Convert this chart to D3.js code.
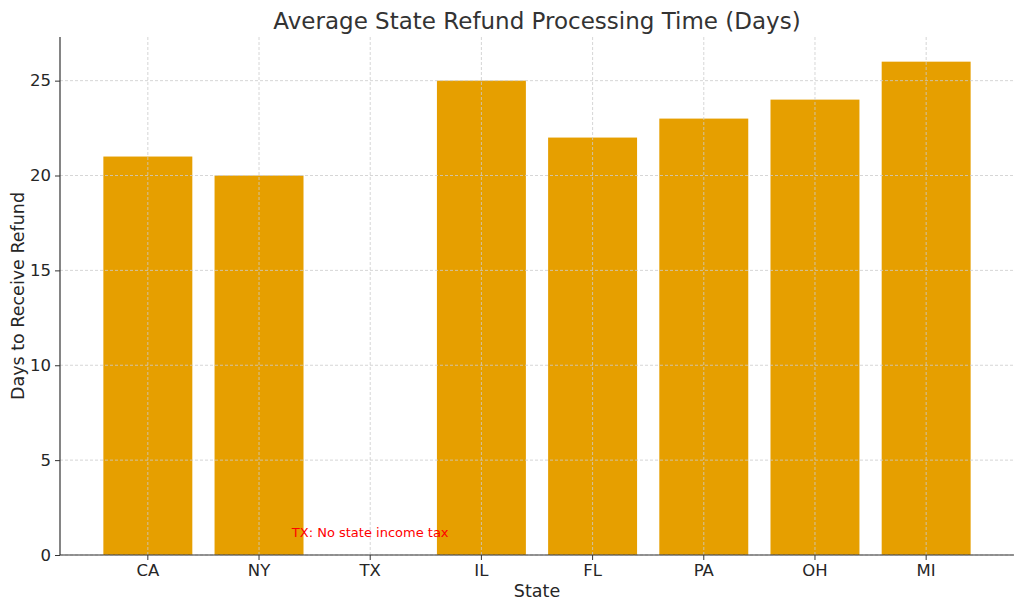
<!DOCTYPE html>
<html><head><meta charset="utf-8">
<script src="https://cdn.jsdelivr.net/npm/d3@7"></script>
<style>body{margin:0;background:#fff}svg{display:block}text{font-family:"DejaVu Sans",sans-serif}</style>
</head><body><svg id="c" width="1024" height="611"></svg>
<script>
const states = ["CA","NY","TX","IL","FL","PA","OH","MI"];
const days = [21,20,0,25,22,23,24,26];
const yTicks = [0,5,10,15,20,25];
const titleText = "Average State Refund Processing Time (Days)";
const xLabel = "State";
const yLabel = "Days to Receive Refund";
const note = "TX: No state income tax";
const noteState = "TX";
const noteValue = 1;

const svg = d3.select("#c");
const L = 60, R = 1014, T = 37, B = 555;
const n = states.length;
const lo = -0.4, hi = n - 1 + 0.4, pad = (hi - lo) * 0.05;
const xl = d3.scaleLinear().domain([lo - pad, hi + pad]).range([L, R]);
const x = d3.scaleBand().domain(states).range([xl(-0.5), xl(n - 0.5)]).paddingInner(0.2).paddingOuter(0.1);
const y = d3.scaleLinear().domain([0, d3.max(days) * 1.05]).range([B, T]);

svg.append("g").selectAll("rect").data(states).join("rect")
  .attr("x", (d) => x(d)).attr("width", x.bandwidth())
  .attr("y", (d, i) => y(days[i])).attr("height", (d, i) => B - y(days[i]))
  .attr("fill", "#E69F00");

const grid = svg.append("g").attr("stroke", "#cccccc").attr("stroke-width", 0.8).attr("stroke-dasharray", "3,2");
grid.selectAll(".gy").data(yTicks).join("line").attr("x1", L).attr("x2", R).attr("y1", d => y(d)).attr("y2", d => y(d));
grid.selectAll(".gx").data(states).join("line").attr("y1", T).attr("y2", B)
  .attr("x1", d => x(d) + x.bandwidth() / 2).attr("x2", d => x(d) + x.bandwidth() / 2);

const xa = svg.append("g").attr("transform", `translate(0,${B})`)
  .call(d3.axisBottom(x).tickSize(5).tickPadding(4).tickSizeOuter(0));
xa.select(".domain").attr("d", `M${L},0H${R}`);
const ya = svg.append("g").attr("transform", `translate(${L},0)`)
  .call(d3.axisLeft(y).tickValues(yTicks).tickSize(5).tickPadding(4).tickSizeOuter(0));
ya.select(".domain").attr("d", `M0,${T}V${B}`);
[xa, ya].forEach(a => {
  a.select(".domain").attr("stroke", "#333").attr("stroke-width", 1.2);
  a.selectAll(".tick line").attr("stroke", "#333").attr("stroke-width", 1);
  a.selectAll(".tick text").attr("fill", "#262626").style("font-size", "16.5px").style("font-family", "DejaVu Sans");
});

svg.append("text").attr("x", x(noteState) + x.bandwidth() / 2).attr("y", y(noteValue))
  .attr("text-anchor", "middle").attr("dy", "0.05em").attr("fill", "red").style("font-size", "13px").text(note);

svg.append("text").attr("x", (L + R) / 2).attr("y", 29).attr("text-anchor", "middle")
  .attr("fill", "#333").style("font-size", "23px").text(titleText);
svg.append("text").attr("x", (L + R) / 2).attr("y", 597).attr("text-anchor", "middle")
  .attr("fill", "#262626").style("font-size", "17.5px").text(xLabel);
svg.append("text").attr("transform", `translate(24,${(T + B) / 2}) rotate(-90)`).attr("text-anchor", "middle")
  .attr("fill", "#262626").style("font-size", "17.5px").text(yLabel);
</script></body></html>
